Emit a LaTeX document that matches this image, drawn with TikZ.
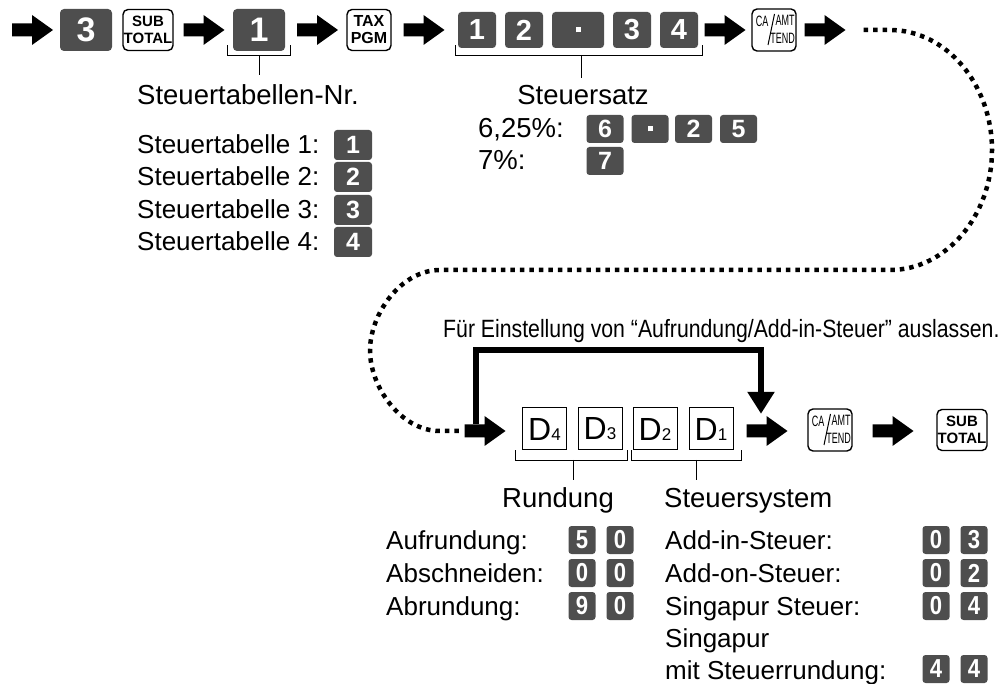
\documentclass[tikz,border=0pt]{standalone}
\usepackage{fontspec}
\setmainfont{Liberation Sans}
\newfontfamily\condfont[FakeStretch=0.85]{Liberation Sans}
\newfontfamily\keycondfont[FakeStretch=0.6]{Liberation Sans}
\newfontfamily\keynarrow[FakeStretch=0.85]{Liberation Sans}
\usetikzlibrary{arrows.meta,calc}
\definecolor{keygray}{RGB}{78,78,78}
\newcommand\cakey[2]{%
  \node[whitekey, minimum width=44pt, minimum height=42pt] (#1) at #2 {};
  \node[cafont] (#1ca) at ($(#1.center)+(-12,-9)$) {CA};
  \node[cafont] (#1amt) at ($(#1.center)+(11,-10)$) {AMT};
  \node[cafont] (#1tend) at ($(#1.center)+(8.5,8)$) {TEND};
  \draw[line width=1pt] ($(#1.center)+(-6,15)$) -- ($(#1.center)+(0.5,-16)$);
}
\newcommand\keydot{\rule{5pt}{5pt}}
\begin{document}
\begin{tikzpicture}[x=1pt,y=-1pt,
  bigkey/.style={fill=keygray, rounded corners=4pt, minimum width=52pt, minimum height=42pt, inner sep=0pt, text=white, font=\fontsize{34}{34}\selectfont\bfseries},
  smallkey/.style={fill=keygray, rounded corners=3.5pt, minimum width=38pt, minimum height=36pt, inner sep=0pt, text=white, font=\fontsize{29}{29}\selectfont\bfseries},
  listkey/.style={fill=keygray, rounded corners=3pt, minimum width=38pt, minimum height=30pt, inner sep=0pt, text=white, font=\fontsize{25}{25}\selectfont\bfseries},
  ratekey/.style={listkey, minimum width=37pt, minimum height=28pt},
  rowkey/.style={fill=keygray, rounded corners=3pt, minimum width=27pt, minimum height=28pt, inner sep=0pt, text=white, font=\keynarrow\fontsize{26}{26}\selectfont\bfseries},
  whitekey/.style={draw=black, line width=1.4pt, rounded corners=5pt, fill=white, inner sep=0pt, minimum width=50pt, minimum height=41pt, align=center},
  subfont/.style={font=\fontsize{15}{17}\selectfont\bfseries},
  cafont/.style={inner sep=0pt, font=\keycondfont\fontsize{15}{15}\selectfont},
  dbox/.style={draw=black, line width=1pt, minimum width=44pt, minimum height=42pt, inner sep=0pt},
  fatarrow/.style={minimum width=41pt, minimum height=30pt, inner sep=0pt,
    path picture={\fill[black] ([xshift=-20.5pt,yshift=-6.5pt]path picture bounding box.center)
      -- ++(20pt,0pt) -- ++(0pt,-8.5pt) -- ++(21pt,15pt) -- ++(-21pt,15pt) -- ++(0pt,-8.5pt) -- ++(-20pt,0pt) -- cycle;}},
  brk/.style={line width=1pt},
  lbl/.style={inner sep=0pt, font=\fontsize{26}{26}\selectfont},
  biglbl/.style={inner sep=0pt, font=\fontsize{27.5}{27.5}\selectfont},
  dotline/.style={line width=4.5pt, dash pattern=on 4.5pt off 5pt},
  skipline/.style={line width=6pt, -{Triangle[width=26pt,length=22pt]}}
]
\useasboundingbox (0,0) rectangle (1007,684);

% ---------- top row ----------
\node[fatarrow] (a1) at (32.5,30) {};
\node[bigkey] (k3) at (86,30) {3};
\node[whitekey, subfont] (sub1) at (148,30) {SUB\\TOTAL};
\node[fatarrow] (a2) at (204,30) {};
\node[bigkey] (k1) at (259,30) {1};
\node[fatarrow] (a3) at (317.5,30) {};
\node[whitekey, minimum width=44pt, font=\fontsize{16}{17}\selectfont\bfseries] (tax) at (369,30) {TAX\\PGM};
\node[fatarrow] (a4) at (424,30) {};
\node[smallkey] (r1) at (477,30) {1};
\node[smallkey] (r2) at (524,30) {2};
\node[smallkey, minimum width=52pt] (rd) at (578,30) {\keydot};
\node[smallkey] (r3) at (632,30) {3};
\node[smallkey] (r4) at (679,30) {4};
\node[fatarrow] (a5) at (725,30) {};
\cakey{ca1}{(774,30)}
\node[fatarrow] (a6) at (825,30) {};

% brackets top
\draw[brk] ([xshift=-5pt,yshift=6pt]k1.south west) -- ++(0,10) -| ([xshift=5pt,yshift=6pt]k1.south east);
\draw[brk] ([yshift=-4pt]k1.south) -- ++(0,20);
\draw[brk] ([xshift=-2pt,yshift=3pt]r1.south west) -- ++(0,10) -| ([xshift=4pt,yshift=3pt]r4.south east);
\coordinate (s2) at (581,55);
\draw[brk] (s2) -- ++(0,23);

% labels top
\node[biglbl, anchor=base west] (lblnr) at (137,105) {Steuertabellen-Nr.};
\node[lbl, anchor=base west] (t1) at (137,154) {Steuertabelle 1:};
\node[lbl, anchor=base west] (t2) at (137,186) {Steuertabelle 2:};
\node[lbl, anchor=base west] (t3) at (137,219) {Steuertabelle 3:};
\node[lbl, anchor=base west] (t4) at (137,251) {Steuertabelle 4:};
\node[listkey] (tk1) at (353,145) {1};
\node[listkey] (tk2) at (353,177) {2};
\node[listkey] (tk3) at (353,210) {3};
\node[listkey] (tk4) at (353,242) {4};

\node[biglbl, anchor=base] (lblsatz) at (583,105) {Steuersatz};
\node[biglbl, anchor=base west] (p625) at (478,138) {6,25\%:};
\node[biglbl, anchor=base west] (p7) at (478,170) {7\%:};
\node[ratekey] (q6) at (605,129) {6};
\node[ratekey] (qd) at (650,129) {\keydot};
\node[ratekey] (q2) at (693.5,129) {2};
\node[ratekey] (q5) at (738.5,129) {5};
\node[ratekey] (q7) at (605,161) {7};

% ---------- bottom row ----------
\node[fatarrow] (a7) at (485,431) {};
\node[dbox] (d4) at (544.5,429) {\fontsize{32}{32}\selectfont D\fontsize{17}{17}\selectfont 4};
\node[dbox] (d3) at (600,429) {\fontsize{32}{32}\selectfont D\fontsize{17}{17}\selectfont 3};
\node[dbox] (d2) at (655,429) {\fontsize{32}{32}\selectfont D\fontsize{17}{17}\selectfont 2};
\node[dbox] (d1) at (711,429) {\fontsize{32}{32}\selectfont D\fontsize{17}{17}\selectfont 1};
\node[fatarrow] (a8) at (767,431) {};
\cakey{ca2}{(830,430)}
\node[fatarrow] (a9) at (893,431) {};
\node[whitekey, subfont] (sub2) at (962,430) {SUB\\TOTAL};

% dotted connector
\draw[dotline] ([xshift=18pt]a6.east) -- (890,30)
  .. controls (946,30) and (992,84) .. (992,150)
  .. controls (992,216) and (946,270) .. (890,270)
  -- (440,270)
  .. controls (401,270) and (370,314) .. (370,350.5)
  .. controls (370,387) and (401,431) .. (440,431)
  -- ([xshift=-3pt]a7.west);

% skip connector
\node[inner sep=0pt, anchor=base west, font=\condfont\fontsize{25}{25}\selectfont] (skiptxt) at (443,338) {Für Einstellung von “Aufrundung/Add-in-Steuer” auslassen.};
\draw[skipline] ([xshift=12pt,yshift=7pt]a7.west) -- ++(0,-74) -| ([xshift=-6pt,yshift=2pt]a8.north);

% brackets bottom
\draw[brk] ([xshift=-7pt]d4.south west) -- ++(0,10) -| ([xshift=5pt]d3.south east);
\draw[brk] (573,460) -- (573,480);
\draw[brk] ([xshift=-1pt]d2.south west) -- ++(0,10) -| ([xshift=8pt]d1.south east);
\draw[brk] (696,460) -- (696,480);

\node[biglbl, anchor=base west] (rund) at (502,507) {Rundung};
\node[biglbl, anchor=base west] (stsys) at (664,507) {Steuersystem};

% option rows
\node[lbl, anchor=base west] (o1) at (386,549) {Aufrundung:};
\node[lbl, anchor=base west] (o2) at (386,582) {Abschneiden:};
\node[lbl, anchor=base west] (o3) at (386,615) {Abrundung:};
\node[rowkey] (o1a) at (582,540) {5};
\node[rowkey] (o1b) at (620,540) {0};
\node[rowkey] (o2a) at (582,573) {0};
\node[rowkey] (o2b) at (620,573) {0};
\node[rowkey] (o3a) at (582,606) {9};
\node[rowkey] (o3b) at (620,606) {0};

\node[lbl, anchor=base west] (s1) at (665,549) {Add-in-Steuer:};
\node[lbl, anchor=base west] (s2l) at (665,582) {Add-on-Steuer:};
\node[lbl, anchor=base west] (s3) at (665,615) {Singapur Steuer:};
\node[lbl, anchor=base west] (s4) at (665,647) {Singapur};
\node[lbl, anchor=base west] (s5) at (665,679) {mit Steuerrundung:};
\node[rowkey] (s1a) at (936,540) {0};
\node[rowkey] (s1b) at (974,540) {3};
\node[rowkey] (s2a) at (936,573) {0};
\node[rowkey] (s2b) at (974,573) {2};
\node[rowkey] (s3a) at (936,606) {0};
\node[rowkey] (s3b) at (974,606) {4};
\node[rowkey] (s5a) at (936,669) {4};
\node[rowkey] (s5b) at (974,669) {4};
\end{tikzpicture}
\end{document}
